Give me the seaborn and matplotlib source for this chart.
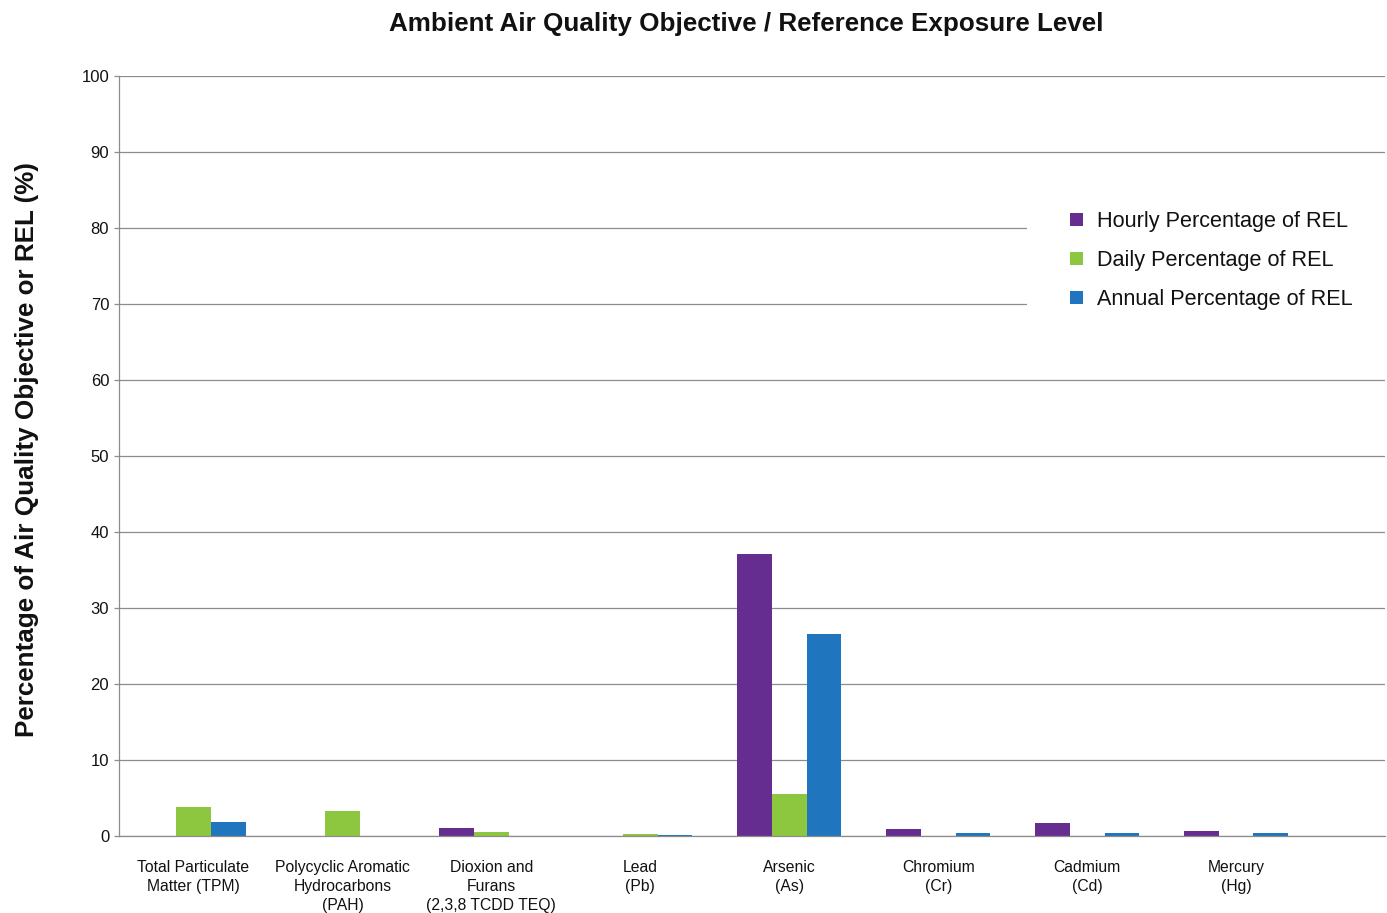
import matplotlib
matplotlib.use("Agg")
import matplotlib.pyplot as plt
import pandas as pd
import seaborn as sns
from matplotlib.patches import Patch, Rectangle

categories = [
    "Total Particulate\nMatter (TPM)",
    "Polycyclic Aromatic\nHydrocarbons\n(PAH)",
    "Dioxion and\nFurans\n(2,3,8 TCDD TEQ)",
    "Lead\n(Pb)",
    "Arsenic\n(As)",
    "Chromium\n(Cr)",
    "Cadmium\n(Cd)",
    "Mercury\n(Hg)",
]
hourly = [0.0, 0.0, 1.05, 0.0, 37.1, 0.9, 1.65, 0.6]
daily = [3.8, 3.3, 0.5, 0.3, 5.5, 0.0, 0.0, 0.0]
annual = [1.8, 0.0, 0.0, 0.1, 26.6, 0.45, 0.45, 0.45]
series_names = ["Hourly Percentage of REL", "Daily Percentage of REL", "Annual Percentage of REL"]
colors = ["#662D91", "#8DC63F", "#1F75BE"]
y_ticks = list(range(0, 101, 10))

rows = []
for name, vals in zip(series_names, [hourly, daily, annual]):
    for cat, v in zip(categories, vals):
        rows.append({"category": cat, "series": name, "value": v})
df = pd.DataFrame(rows)

sns.set_style("white")
plt.rcParams["font.family"] = ["Liberation Sans", "DejaVu Sans"]

fig = plt.figure(figsize=(13.87, 9.13), dpi=100)
ax = fig.add_axes([0.0858, 0.0843, 0.9128, 0.8325])

sns.barplot(data=df, x="category", y="value", hue="series", order=categories,
            hue_order=series_names, palette=colors, width=0.7, saturation=1,
            linewidth=0, legend=False, ax=ax)

ax.set_xlim(-0.5, 8.0)
ax.set_ylim(0, 100)
ax.set_yticks(y_ticks)
ax.yaxis.grid(True, color="#8c8c8c", linewidth=0.9)
ax.set_axisbelow(True)
for s in ["top", "right"]:
    ax.spines[s].set_visible(False)
for s in ["left", "bottom"]:
    ax.spines[s].set_color("#8c8c8c")
    ax.spines[s].set_linewidth(0.9)

ax.tick_params(axis="y", left=True, length=3.6, width=0.9, color="#8c8c8c",
               labelsize=12, pad=3.5, labelcolor="#111111")
ax.tick_params(axis="x", bottom=False, labelsize=11.3, pad=14, labelcolor="#111111")
for lbl in ax.get_xticklabels():
    lbl.set_linespacing(1.3)
    lbl.set_verticalalignment("top")

ax.set_xlabel("")
ax.set_ylabel("Percentage of Air Quality Objective or REL (%)", fontsize=18.7,
              fontweight="bold", color="#111111")
ax.yaxis.set_label_coords(-0.063, 0.509)
fig.suptitle("Ambient Air Quality Objective / Reference Exposure Level",
             fontsize=18.7, fontweight="bold", x=0.538, y=0.987, color="#111111")

# white panel behind the legend hides the gridlines there
ax.add_patch(Rectangle((0.717, 0.66), 0.283, 0.2, transform=ax.transAxes,
                       facecolor="white", edgecolor="none", zorder=1.5))

handles = [Patch(facecolor=c, edgecolor="none") for c in colors]
leg = ax.legend(handles, series_names, loc="upper left",
                bbox_to_anchor=(0.7515, 0.822), frameon=False, fontsize=15.6,
                handlelength=0.6, handleheight=0.6, handletextpad=0.62,
                labelspacing=0.83, borderpad=0, borderaxespad=0,
                labelcolor="#111111")
leg.set_zorder(3)

fig.savefig("out.png", dpi=100, facecolor="white")
